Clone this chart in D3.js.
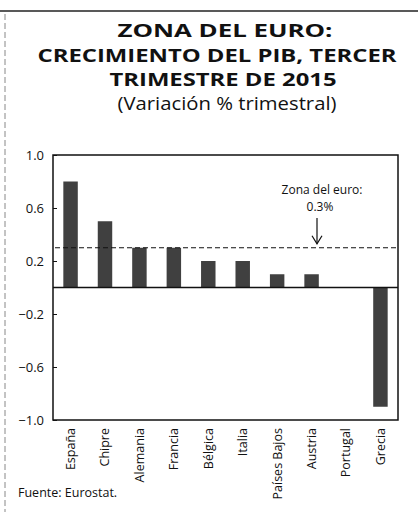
<!DOCTYPE html>
<html>
<head>
<meta charset="utf-8">
<script src="https://cdn.jsdelivr.net/npm/d3@7"></script>
<style>
  body { margin:0; background:#fff; }
  svg { font-family: "Open Sans", Lato, sans-serif; }
</style>
</head>
<body>
<svg id="chart" width="418" height="512"></svg>
<script>
// data
var paises = ['España','Chipre','Alemania','Francia','Bélgica','Italia','Países Bajos','Austria','Portugal','Grecia'];
var crecimiento = [0.8, 0.5, 0.3, 0.3, 0.2, 0.2, 0.1, 0.1, 0.0, -0.9];
var zonaEuro = 0.3;
var yTicks = [1.0, 0.6, 0.2, -0.2, -0.6, -1.0];
var titulo = ['ZONA DEL EURO:', 'CRECIMIENTO DEL PIB, TERCER', 'TRIMESTRE DE 2015'];
var subtitulo = '(Variación % trimestral)';

var svg = d3.select('#chart');

// scan border bits
svg.append('line').attr('x1',0).attr('x2',418).attr('y1',11).attr('y2',11)
  .attr('stroke','#222').attr('stroke-width',1.5);
svg.append('line').attr('x1',5).attr('x2',5).attr('y1',14).attr('y2',512)
  .attr('stroke','#888').attr('stroke-width',1).attr('stroke-dasharray','6,3');

// titles (widths follow the scan)
var titW = [215, 359, 227];
var titX = [225, 217, 223];
svg.selectAll('text.tit').data(titulo).enter().append('text')
  .attr('class','tit')
  .attr('x',function(d,i){return titX[i];}).attr('y',function(d,i){return 37+i*24.5;})
  .attr('text-anchor','middle')
  .attr('font-size',18).attr('font-weight','bold')
  .attr('textLength',function(d,i){return titW[i];})
  .attr('lengthAdjust','spacingAndGlyphs')
  .attr('fill','#111')
  .text(function(d){return d;});
svg.append('text').attr('x',227).attr('y',110)
  .attr('text-anchor','middle').attr('font-size',17.5).attr('fill','#111')
  .attr('textLength',219).attr('lengthAdjust','spacingAndGlyphs')
  .text(subtitulo);

var m = {left:53, right:398, top:155, bottom:420};

var x = d3.scaleBand().domain(paises).range([m.left, m.right]).paddingInner(0.58).paddingOuter(0.3);
var y = d3.scaleLinear().domain([-1,1]).range([m.bottom, m.top]);

// bars
svg.selectAll('rect.bar').data(crecimiento).enter().append('rect')
  .attr('class','bar')
  .attr('x',function(d,i){return x(paises[i]);})
  .attr('width',x.bandwidth())
  .attr('y',function(d){return y(Math.max(0,d));})
  .attr('height',function(d){return Math.abs(y(d)-y(0));})
  .attr('fill','#404040');

// frame
svg.append('rect').attr('x',m.left).attr('y',m.top)
  .attr('width',m.right-m.left).attr('height',m.bottom-m.top)
  .attr('fill','none').attr('stroke','#111').attr('stroke-width',1.5);

// zero line
svg.append('line').attr('x1',m.left).attr('x2',m.right)
  .attr('y1',y(0)).attr('y2',y(0)).attr('stroke','#111').attr('stroke-width',1.3);

// y axis
var yAxis = d3.axisLeft(y).tickValues(yTicks).tickFormat(d3.format('.1f')).tickSize(-4).tickPadding(9);
var ga = svg.append('g').attr('transform','translate('+m.left+',0)').call(yAxis);
ga.select('.domain').remove();
ga.selectAll('.tick line').attr('stroke','#111');
ga.selectAll('.tick text').attr('font-size',13).attr('fill','#111')
  .attr('font-family','"Open Sans", Lato, sans-serif');

// x labels
var xAxis = d3.axisBottom(x).tickSize(0).tickPadding(0);
var gx = svg.append('g').attr('transform','translate(0,'+m.bottom+')').call(xAxis);
gx.select('.domain').remove();
gx.selectAll('.tick text')
  .attr('transform','rotate(-90)')
  .attr('x',-8).attr('y',0).attr('dy','0.35em')
  .attr('text-anchor','end')
  .attr('font-size',12.5).attr('fill','#111')
  .attr('font-family','"Open Sans", Lato, sans-serif');

// euro area line
svg.append('line').attr('x1',m.left+2).attr('x2',m.right-2)
  .attr('y1',y(zonaEuro)).attr('y2',y(zonaEuro))
  .attr('stroke','#111').attr('stroke-width',1.2).attr('stroke-dasharray','5,3');

// annotation
var ax = 317;
svg.append('text').attr('x',322).attr('y',194).attr('text-anchor','middle')
  .attr('font-size',12).attr('fill','#111').text('Zona del euro:');
svg.append('text').attr('x',320).attr('y',211).attr('text-anchor','middle')
  .attr('font-size',12).attr('fill','#111').text(d3.format('.1f')(zonaEuro)+'%');
svg.append('line').attr('x1',ax).attr('x2',ax).attr('y1',218).attr('y2',y(zonaEuro)-4)
  .attr('stroke','#111').attr('stroke-width',1.2);
svg.append('path')
  .attr('d','M'+(ax-5)+','+(y(zonaEuro)-12)+' L'+ax+','+(y(zonaEuro)-4)+' L'+(ax+5)+','+(y(zonaEuro)-12))
  .attr('fill','none').attr('stroke','#111').attr('stroke-width',1.2);

// source
svg.append('text').attr('x',18).attr('y',497).attr('font-size',12.5).attr('fill','#111')
  .text('Fuente:  Eurostat.');
</script>
</body>
</html>
